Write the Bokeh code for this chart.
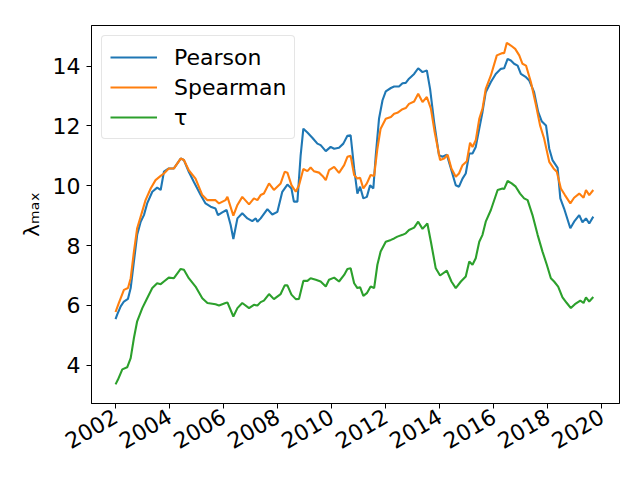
import math
from bokeh.plotting import figure
from bokeh.models import FixedTicker, PrintfTickFormatter, Legend, LegendItem, Range1d
from bokeh.embed import file_html
from bokeh.resources import INLINE

pearson_year = [2002.00, 2002.06, 2002.19, 2002.31, 2002.46, 2002.56, 2002.68, 2002.80, 2002.93, 2003.05,
                2003.17, 2003.36, 2003.54, 2003.67, 2003.79, 2003.97, 2004.16, 2004.41, 2004.53, 2004.71,
                2004.90, 2005.15, 2005.33, 2005.52, 2005.70, 2005.79, 2005.95, 2006.11, 2006.26, 2006.36,
                2006.51, 2006.69, 2006.88, 2007.06, 2007.19, 2007.25, 2007.37, 2007.62, 2007.80, 2007.99,
                2008.17, 2008.36, 2008.51, 2008.60, 2008.73, 2008.85, 2008.95, 2009.10, 2009.29, 2009.47,
                2009.59, 2009.78, 2009.96, 2010.09, 2010.27, 2010.43, 2010.58, 2010.70, 2010.83, 2010.95,
                2011.05, 2011.17, 2011.30, 2011.42, 2011.54, 2011.63, 2011.75, 2011.88, 2012.00, 2012.19,
                2012.31, 2012.49, 2012.62, 2012.74, 2012.86, 2013.05, 2013.20, 2013.36, 2013.52, 2013.64,
                2013.79, 2013.97, 2014.10, 2014.26, 2014.41, 2014.59, 2014.71, 2014.84, 2014.96, 2015.09,
                2015.21, 2015.33, 2015.46, 2015.58, 2015.70, 2015.89, 2016.07, 2016.26, 2016.38, 2016.51,
                2016.63, 2016.75, 2016.88, 2017.00, 2017.19, 2017.31, 2017.49, 2017.64, 2017.77, 2017.93,
                2018.05, 2018.17, 2018.36, 2018.46, 2018.60, 2018.83, 2018.97, 2019.16, 2019.28, 2019.41,
                2019.53, 2019.68]
pearson = [5.54, 5.69, 5.97, 6.13, 6.22, 6.58, 7.47, 8.36, 8.80, 9.02,
           9.41, 9.80, 9.94, 9.86, 10.47, 10.58, 10.58, 10.91, 10.86, 10.47,
           10.13, 9.69, 9.41, 9.30, 9.24, 9.02, 9.11, 9.19, 8.69, 8.22,
           8.91, 9.08, 8.91, 8.82, 8.91, 8.80, 8.91, 9.22, 9.04, 9.13,
           9.80, 10.04, 9.91, 9.47, 9.47, 11.02, 11.91, 11.78, 11.60, 11.41,
           11.36, 11.16, 11.30, 11.24, 11.27, 11.41, 11.67, 11.69, 10.58, 9.74,
           9.97, 9.58, 9.63, 10.02, 9.91, 11.02, 12.24, 12.86, 13.16, 13.27,
           13.32, 13.32, 13.43, 13.44, 13.58, 13.74, 13.93, 13.80, 13.86, 13.24,
           12.13, 11.02, 10.97, 11.04, 10.58, 10.02, 9.97, 10.24, 10.41, 11.08,
           11.08, 11.30, 11.91, 12.47, 13.13, 13.47, 13.74, 13.91, 13.93, 14.24,
           14.19, 14.08, 14.02, 13.74, 13.63, 13.52, 13.13, 12.47, 12.16, 12.02,
           11.24, 10.86, 10.60, 9.58, 9.24, 8.58, 8.80, 9.02, 8.78, 8.91,
           8.74, 8.97]

spearman_year = [2002.00, 2002.12, 2002.31, 2002.46, 2002.56, 2002.68, 2002.80, 2002.93, 2003.11, 2003.30,
                 2003.48, 2003.67, 2003.79, 2003.97, 2004.16, 2004.41, 2004.53, 2004.71, 2004.96, 2005.21,
                 2005.40, 2005.70, 2005.83, 2006.07, 2006.14, 2006.36, 2006.51, 2006.69, 2006.94, 2007.12,
                 2007.25, 2007.37, 2007.49, 2007.68, 2007.86, 2008.11, 2008.26, 2008.36, 2008.51, 2008.67,
                 2008.79, 2008.95, 2009.10, 2009.22, 2009.34, 2009.53, 2009.66, 2009.78, 2009.90, 2010.09,
                 2010.27, 2010.46, 2010.58, 2010.70, 2010.83, 2010.95, 2011.05, 2011.17, 2011.30, 2011.44,
                 2011.57, 2011.69, 2011.81, 2012.00, 2012.19, 2012.31, 2012.43, 2012.62, 2012.74, 2012.86,
                 2013.05, 2013.20, 2013.36, 2013.52, 2013.67, 2013.81, 2014.01, 2014.16, 2014.29, 2014.43,
                 2014.59, 2014.71, 2014.84, 2015.00, 2015.12, 2015.21, 2015.33, 2015.46, 2015.58, 2015.70,
                 2015.89, 2016.11, 2016.32, 2016.38, 2016.48, 2016.63, 2016.79, 2016.94, 2017.06, 2017.19,
                 2017.37, 2017.56, 2017.71, 2017.86, 2018.05, 2018.21, 2018.33, 2018.48, 2018.63, 2018.83,
                 2018.97, 2019.16, 2019.32, 2019.41, 2019.53, 2019.68]
spearman = [5.78, 6.08, 6.52, 6.58, 6.91, 7.80, 8.58, 8.97, 9.52, 9.91,
            10.19, 10.33, 10.41, 10.58, 10.58, 10.91, 10.86, 10.52, 10.24, 9.69,
            9.52, 9.52, 9.41, 9.52, 9.63, 9.00, 9.36, 9.63, 9.38, 9.58,
            9.52, 9.69, 9.74, 10.08, 9.86, 10.08, 10.47, 10.44, 10.02, 9.80,
            10.02, 10.56, 10.49, 10.61, 10.49, 10.44, 10.33, 10.19, 10.52, 10.63,
            10.43, 10.69, 10.97, 11.00, 10.36, 10.24, 10.27, 9.91, 10.08, 10.36,
            10.33, 11.24, 11.91, 12.24, 12.30, 12.41, 12.44, 12.56, 12.60, 12.74,
            12.82, 13.08, 12.80, 12.97, 12.58, 11.80, 10.86, 10.91, 11.04, 10.58,
            10.30, 10.41, 10.69, 10.82, 11.44, 11.30, 11.52, 12.24, 12.58, 13.24,
            13.69, 14.36, 14.44, 14.43, 14.78, 14.69, 14.58, 14.36, 14.08, 14.02,
            13.47, 12.69, 12.02, 11.58, 10.80, 10.58, 10.47, 9.91, 9.69, 9.41,
            9.60, 9.74, 9.60, 9.86, 9.69, 9.86]

tau_year = [2002.00, 2002.09, 2002.25, 2002.43, 2002.56, 2002.68, 2002.80, 2002.99, 2003.17, 2003.36,
            2003.54, 2003.67, 2003.79, 2003.97, 2004.16, 2004.41, 2004.53, 2004.71, 2004.96, 2005.21,
            2005.40, 2005.70, 2005.83, 2006.07, 2006.14, 2006.36, 2006.51, 2006.69, 2006.94, 2007.12,
            2007.25, 2007.37, 2007.49, 2007.68, 2007.86, 2008.11, 2008.26, 2008.36, 2008.51, 2008.67,
            2008.79, 2008.95, 2009.10, 2009.22, 2009.41, 2009.59, 2009.78, 2009.90, 2010.09, 2010.27,
            2010.46, 2010.58, 2010.70, 2010.83, 2010.95, 2011.05, 2011.17, 2011.30, 2011.44, 2011.57,
            2011.69, 2011.81, 2012.00, 2012.19, 2012.31, 2012.43, 2012.62, 2012.74, 2012.86, 2013.05,
            2013.20, 2013.36, 2013.54, 2013.67, 2013.85, 2014.01, 2014.26, 2014.43, 2014.59, 2014.78,
            2014.96, 2015.09, 2015.21, 2015.33, 2015.46, 2015.58, 2015.70, 2015.89, 2016.14, 2016.32,
            2016.38, 2016.51, 2016.66, 2016.81, 2016.97, 2017.12, 2017.25, 2017.43, 2017.62, 2017.80,
            2017.96, 2018.11, 2018.23, 2018.38, 2018.54, 2018.70, 2018.85, 2019.00, 2019.20, 2019.32,
            2019.41, 2019.53, 2019.68]
tau = [3.36, 3.52, 3.86, 3.93, 4.24, 4.91, 5.47, 5.91, 6.24, 6.58,
       6.74, 6.71, 6.80, 6.93, 6.91, 7.22, 7.19, 6.91, 6.63, 6.24,
       6.08, 6.04, 6.00, 6.08, 6.10, 5.63, 5.91, 6.08, 5.91, 6.02,
       6.00, 6.11, 6.16, 6.38, 6.21, 6.38, 6.67, 6.67, 6.36, 6.21,
       6.22, 6.82, 6.82, 6.91, 6.86, 6.80, 6.63, 6.86, 6.93, 6.80,
       7.02, 7.22, 7.24, 6.74, 6.58, 6.61, 6.32, 6.41, 6.63, 6.58,
       7.36, 7.80, 8.13, 8.19, 8.24, 8.30, 8.36, 8.41, 8.52, 8.60,
       8.80, 8.56, 8.74, 8.13, 7.24, 7.00, 7.16, 6.80, 6.58, 6.80,
       6.97, 7.47, 7.36, 7.58, 8.13, 8.36, 8.80, 9.19, 9.86, 9.91,
       9.89, 10.16, 10.08, 9.97, 9.74, 9.58, 9.52, 9.02, 8.36, 7.80,
       7.36, 6.91, 6.80, 6.63, 6.27, 6.08, 5.91, 6.04, 6.16, 6.08,
       6.27, 6.13, 6.28]

x_ticks = [2002, 2004, 2006, 2008, 2010, 2012, 2014, 2016, 2018, 2020]
y_ticks = [4, 6, 8, 10, 12, 14]
series_names = ["Pearson", "Spearman", "τ"]
series_colors = ["#1f77b4", "#ff7f0e", "#2ca02c"]

FONT = "DejaVu Sans"
FS = "22px"

p = figure(frame_width=528, frame_height=378, output_backend="svg", toolbar_location=None,
           x_range=Range1d(2001.11, 2020.65), y_range=Range1d(2.72, 15.36),
           min_border_left=91, min_border_right=21, min_border_top=25, min_border_bottom=77,
           background_fill_color="white", border_fill_color="white")

p.xgrid.visible = False
p.ygrid.visible = False
p.outline_line_color = "black"
p.outline_line_alpha = 1.0
p.outline_line_width = 1

for ax in (p.xaxis[0], p.yaxis[0]):
    ax.axis_line_color = "black"
    ax.major_tick_line_color = "black"
    ax.major_tick_in = 0
    ax.major_tick_out = 5
    ax.minor_tick_line_color = None
    ax.major_label_text_font = FONT
    ax.major_label_text_font_size = FS
    ax.major_label_text_color = "black"
    ax.major_label_standoff = 6

p.xaxis.ticker = FixedTicker(ticks=x_ticks)
p.xaxis.formatter = PrintfTickFormatter(format="%d")
p.xaxis.major_label_orientation = math.pi / 6
p.yaxis.ticker = FixedTicker(ticks=y_ticks)
p.yaxis.formatter = PrintfTickFormatter(format="%d")
p.yaxis.axis_label = "λₘₐₓ"
p.yaxis.axis_label_text_font = FONT
p.yaxis.axis_label_text_font_size = FS
p.yaxis.axis_label_text_font_style = "normal"
p.yaxis.axis_label_text_color = "black"
p.yaxis.axis_label_standoff = 6

renderers = []
for xs, ys, c in ((pearson_year, pearson, series_colors[0]),
                  (spearman_year, spearman, series_colors[1]),
                  (tau_year, tau, series_colors[2])):
    renderers.append(p.line(xs, ys, line_color=c, line_width=2.1))

legend = Legend(items=[LegendItem(label=n, renderers=[r]) for n, r in zip(series_names, renderers)],
                location="top_left", margin=10, padding=8, spacing=4,
                glyph_width=47, glyph_height=26, label_standoff=17,
                label_text_font=FONT, label_text_font_size=FS, label_text_color="black",
                border_line_color="#cccccc", border_line_width=1,
                background_fill_color="white", background_fill_alpha=0.8)
if "border_radius" in Legend.properties():
    legend.border_radius = 4
p.add_layout(legend, "center")

open("out.html", "w").write(file_html(p, INLINE))
